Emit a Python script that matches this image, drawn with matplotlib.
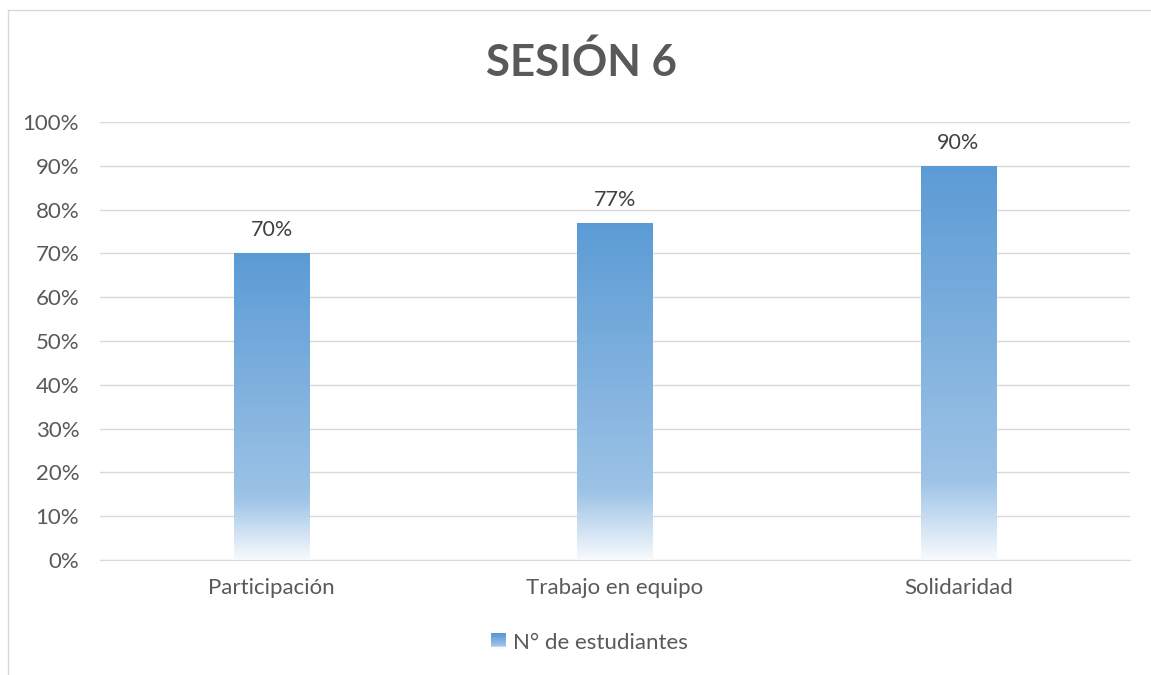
import numpy as np
import matplotlib.pyplot as plt
from matplotlib.colors import LinearSegmentedColormap
from matplotlib.patches import Rectangle
from matplotlib.legend_handler import HandlerBase

plt.rcParams['font.family'] = ['Lato', 'DejaVu Sans']

categories = ['Participación', 'Trabajo en equipo', 'Solidaridad']
values = [70, 77, 90]
series_name = 'N° de estudiantes'
title = 'SESIÓN 6'

text_color = '#595959'
grid_color = '#D9D9D9'

# gradient from top (dark blue) down to almost white at the base
grad = LinearSegmentedColormap.from_list(
    'bar_grad', [(0.0, '#F7FAFD'), (0.2, '#9DC3E6'), (1.0, '#5B9BD5')])


class GradientHandler(HandlerBase):
    def create_artists(self, legend, orig_handle, xdescent, ydescent,
                       width, height, fontsize, trans):
        size = height * 1.0
        x0 = xdescent + width - size
        n = 10
        arts = []
        for k in range(n):
            r = Rectangle((x0, -ydescent + k * size / n), size, size / n + 0.2,
                          facecolor=grad(k / (n - 1)), edgecolor='none',
                          transform=trans)
            arts.append(r)
        return arts


fig = plt.figure(figsize=(11.51, 6.75), dpi=100)
ax = fig.add_axes([0.0869, 0.1704, 0.8949, 0.6489])

# chart border
fig.patches.append(Rectangle((8 / 1151, -0.05), 1.1, 1 - 10 / 675 + 0.05,
                             transform=fig.transFigure, fill=False,
                             edgecolor=grid_color, linewidth=1))

x = np.arange(len(categories))
width = 0.22
bars = ax.bar(x, values, width=width, color='none', edgecolor='none', zorder=3)

gradient = np.linspace(0, 1, 256).reshape(-1, 1)
for b, v in zip(bars, values):
    x0, y0 = b.get_x(), b.get_y()
    w, h = b.get_width(), b.get_height()
    im = ax.imshow(gradient, cmap=grad, aspect='auto', origin='lower',
                   extent=[x0, x0 + w, y0, y0 + h], zorder=3)
    im.set_clip_path(b)
    ax.text(x0 + w / 2, y0 + h + 3, f'{v}%',
            ha='center', va='bottom', fontsize=15.5, color='#404040')

ax.set_xlim(-0.5, len(categories) - 0.5)
ax.set_ylim(0, 100)
ax.set_yticks(range(0, 101, 10))
ax.set_yticklabels([f'{v}%' for v in range(0, 101, 10)])
ax.set_xticks(x)
ax.set_xticklabels(categories)
ax.tick_params(axis='both', length=0, labelsize=16, colors=text_color)
ax.tick_params(axis='x', pad=13)
ax.tick_params(axis='y', pad=15)
ax.grid(axis='y', color=grid_color, linewidth=1)
ax.set_axisbelow(True)
for s in ['top', 'right', 'left']:
    ax.spines[s].set_visible(False)
ax.spines['bottom'].set_color(grid_color)

fig.text(0.505, 1 - 62 / 675, title, ha='center', va='center',
         fontsize=31.5, fontweight='bold', color=text_color)

leg = fig.legend([bars[0]], [series_name], loc='center',
                 bbox_to_anchor=(0.511, 1 - 643 / 675), frameon=False,
                 fontsize=16, labelcolor=text_color,
                 handler_map={type(bars[0]): GradientHandler()},
                 handlelength=0.8, handletextpad=0.3)

fig.savefig('out.png', dpi=100)
